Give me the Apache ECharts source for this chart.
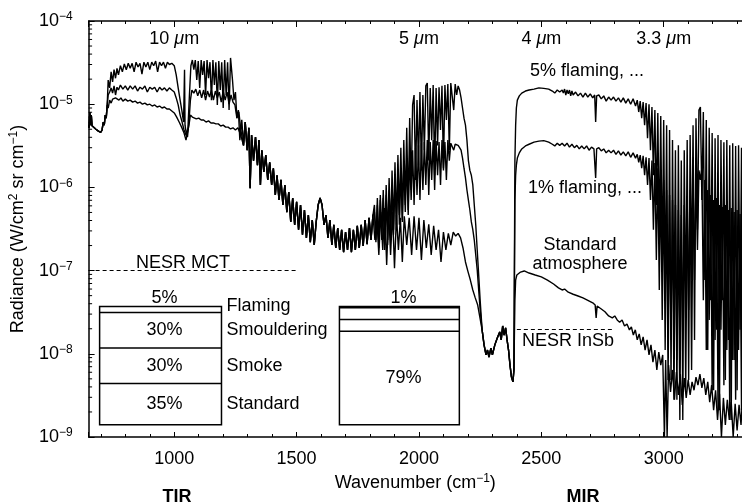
<!DOCTYPE html>
<html><head><meta charset="utf-8">
<style>html,body{margin:0;padding:0;background:#fff}#c{width:742px;height:504px}</style>
<script src="https://cdn.jsdelivr.net/npm/echarts@6/dist/echarts.min.js"></script>
</head><body><div id="c"></div>
<script>
// ---- spectral data: [wavenumber cm^-1, radiance W/cm2 sr cm-1] ----
const startAll = [[650,5.6e-6],[652,5.2e-6],[655,8.0e-6],[658,5.6e-6],[661,7.4e-6],[664,5.5e-6],[670,5.3e-6],[680,5.0e-6],[690,4.75e-6],[700,4.6e-6],[705,4.9e-6],[710,6.1e-6],[714,5.6e-6],[718,7.4e-6],[722,6.8e-6],[726,9.8e-6]];

const flame5Tir = [[730,1.95e-5],[736,1.57e-5],[742,2.45e-5],[748,1.85e-5],[754,2.6e-5],[760,2.05e-5],[766,2.7e-5],[772,2.25e-5],[780,2.9e-5],[788,2.45e-5],[796,3.05e-5],[804,2.6e-5],[812,3.1e-5],[820,2.7e-5],[828,3.1e-5],[836,2.45e-5],[844,3.2e-5],[852,2.8e-5],[860,3.1e-5],[868,2.3e-5],[876,3.2e-5],[884,2.8e-5],[892,3.2e-5],[900,2.6e-5],[908,3.2e-5],[916,2.9e-5],[924,3.3e-5],[932,2.45e-5],[940,3.2e-5],[948,2.9e-5],[956,3.2e-5],[964,2.7e-5],[972,3.2e-5],[980,3.0e-5],[990,3.1e-5],[1000,2.9e-5],[1008,2.25e-5],[1016,1.57e-5],[1024,1.12e-5],[1032,8.1e-6],[1038,6.1e-6],[1042,2.6e-5],[1044,5.6e-6],[1050,4.27e-6],[1056,5.2e-6],[1062,1.29e-5],[1068,2.9e-5],[1074,3.4e-5],[1080,2.6e-5],[1086,3.4e-5],[1092,1.95e-5],[1098,3.3e-5],[1104,1.57e-5],[1110,3.4e-5],[1116,2.25e-5],[1122,3.3e-5],[1128,1.29e-5],[1134,3.4e-5],[1140,2.05e-5],[1146,3.2e-5],[1152,1.12e-5],[1158,3.4e-5],[1164,1.7e-5],[1170,3.2e-5],[1176,9.8e-6],[1182,3.3e-5],[1188,1.48e-5],[1194,3.2e-5],[1200,9.0e-6],[1206,3.4e-5],[1212,1.29e-5],[1218,3.2e-5],[1224,8.5e-6],[1230,3.6e-5],[1238,1.95e-5],[1244,1.12e-5],[1250,1.4e-5],[1256,6.8e-6],[1262,8.5e-6],[1268,3.7e-6],[1276,6.5e-6]];

const flame1Tir = [[730,1.29e-5],[736,1.4e-5],[742,1.57e-5],[748,1.36e-5],[754,1.66e-5],[760,1.29e-5],[766,1.6e-5],[772,1.48e-5],[780,1.7e-5],[790,1.52e-5],[800,1.66e-5],[810,1.48e-5],[820,1.66e-5],[830,1.52e-5],[840,1.66e-5],[850,1.44e-5],[860,1.6e-5],[870,1.52e-5],[880,1.66e-5],[890,1.4e-5],[900,1.6e-5],[910,1.52e-5],[920,1.6e-5],[930,1.4e-5],[940,1.6e-5],[950,1.48e-5],[960,1.57e-5],[970,1.44e-5],[980,1.57e-5],[990,1.48e-5],[1000,1.4e-5],[1008,1.19e-5],[1016,9.8e-6],[1024,7.4e-6],[1032,6.1e-6],[1040,4.9e-6],[1048,4.27e-6],[1054,4.04e-6],[1060,6.1e-6],[1066,1.12e-5],[1072,1.48e-5],[1080,1.36e-5],[1088,1.52e-5],[1096,1.26e-5],[1104,1.48e-5],[1112,1.19e-5],[1120,1.48e-5],[1128,1.12e-5],[1136,1.44e-5],[1144,1.22e-5],[1152,1.48e-5],[1160,1.12e-5],[1168,1.44e-5],[1176,1.19e-5],[1184,1.4e-5],[1192,1.06e-5],[1200,1.44e-5],[1208,1.12e-5],[1216,1.4e-5],[1224,1.0e-5],[1232,1.29e-5],[1240,1.06e-5],[1248,9.8e-6],[1256,6.8e-6],[1264,8.1e-6],[1272,4.9e-6]];

const stdTir = [[730,9.0e-6],[736,1.12e-5],[742,1.03e-5],[748,1.15e-5],[754,1.09e-5],[760,1.19e-5],[766,1.22e-5],[774,1.12e-5],[782,1.19e-5],[790,1.09e-5],[800,1.15e-5],[810,1.09e-5],[820,1.12e-5],[830,1.06e-5],[840,1.09e-5],[850,1.03e-5],[860,1.06e-5],[870,1.0e-5],[880,1.03e-5],[890,9.8e-6],[900,1.0e-5],[910,9.5e-6],[920,9.8e-6],[930,9.25e-6],[940,9.5e-6],[950,9.0e-6],[960,9.25e-6],[970,8.75e-6],[980,8.75e-6],[990,8.3e-6],[1000,7.85e-6],[1010,7.0e-6],[1020,6.1e-6],[1030,5.3e-6],[1040,4.5e-6],[1048,3.7e-6],[1054,3.6e-6],[1060,5.6e-6],[1066,7.4e-6],[1074,7.0e-6],[1082,7.2e-6],[1090,6.65e-6],[1100,6.8e-6],[1110,6.45e-6],[1120,6.45e-6],[1130,6.1e-6],[1140,6.3e-6],[1150,5.95e-6],[1160,5.95e-6],[1170,5.8e-6],[1180,5.8e-6],[1190,5.47e-6],[1200,5.6e-6],[1210,5.3e-6],[1220,5.3e-6],[1230,5.04e-6],[1240,5.2e-6],[1250,4.9e-6],[1260,5.2e-6],[1270,4.4e-6]];

const commonMid = [[1283,3.2e-6],[1290,6.1e-6],[1298,2.8e-6],[1305,5.2e-6],[1310,9.8e-7],[1316,4.27e-6],[1324,2.1e-6],[1332,4.04e-6],[1340,1.85e-6],[1346,3.7e-6],[1352,1.07e-6],[1358,2.8e-6],[1366,1.53e-6],[1374,2.45e-6],[1382,1.23e-6],[1390,2.0e-6],[1398,1.07e-6],[1405,1.7e-6],[1413,8.1e-7],[1420,1.4e-6],[1428,7.05e-7],[1436,1.23e-6],[1444,6.15e-7],[1452,1.07e-6],[1460,5.05e-7],[1468,8.8e-7],[1476,3.85e-7],[1484,7.45e-7],[1492,3.55e-7],[1500,6.7e-7],[1508,3.1e-7],[1516,6.15e-7],[1524,2.7e-7],[1532,5.35e-7],[1540,2.47e-7],[1548,4.65e-7],[1556,2.2e-7],[1564,4.05e-7],[1572,2.03e-7],[1580,3.85e-7],[1588,6.15e-7],[1596,7.45e-7],[1604,6.15e-7],[1612,3.55e-7],[1620,4.65e-7],[1628,2.47e-7],[1636,4.05e-7],[1644,2.03e-7],[1652,3.55e-7],[1660,1.87e-7],[1668,3.25e-7],[1676,1.77e-7],[1684,3.1e-7],[1692,1.67e-7],[1700,2.9e-7],[1708,1.77e-7],[1716,3.25e-7],[1724,1.67e-7],[1732,3.1e-7],[1740,1.77e-7],[1748,3.45e-7],[1756,1.87e-7],[1764,3.55e-7],[1772,1.98e-7],[1780,4.05e-7],[1788,2.08e-7],[1796,4.3e-7],[1804,2.33e-7],[1812,4.65e-7]];

const flame5Mid = [[1818,6.15e-7],[1824,2.33e-7],[1830,7.45e-7],[1836,2.03e-7],[1842,8.1e-7],[1848,2.47e-7],[1854,9.3e-7],[1860,2.03e-7],[1866,1.07e-6],[1872,2.33e-7],[1878,1.3e-6],[1884,2.7e-7],[1890,1.6e-6],[1896,3.1e-7],[1902,2.0e-6],[1908,3.55e-7],[1914,2.45e-6],[1920,4.65e-7],[1926,3.0e-6],[1932,4.05e-7],[1938,3.7e-6],[1944,6.15e-7],[1950,5.2e-6],[1956,5.35e-7],[1962,6.8e-6],[1968,9.3e-7],[1974,9.8e-6],[1980,1.29e-5],[1986,1.23e-6],[1992,1.12e-5],[1998,1.85e-6],[2004,1.4e-5],[2010,1.6e-6],[2016,1.29e-5],[2022,2.8e-6],[2028,1.66e-5],[2034,1.8e-5],[2040,2.1e-6],[2046,1.57e-5],[2052,3.7e-6],[2058,1.7e-5],[2064,1.4e-6],[2070,1.57e-5],[2076,3.2e-6],[2082,1.6e-5],[2088,4.9e-6],[2094,1.66e-5],[2100,1.7e-6],[2106,1.7e-5],[2112,6.45e-6],[2118,1.75e-5],[2124,2.8e-6],[2130,1.8e-5],[2136,1.85e-5],[2142,8.5e-6],[2148,1.75e-5],[2154,1.29e-5],[2160,1.66e-5],[2166,1.48e-5],[2172,1.19e-5],[2178,9.0e-6],[2184,6.8e-6],[2190,5.6e-6],[2196,3.7e-6],[2202,2.1e-6],[2208,1.6e-6],[2214,1.4e-6],[2220,1.07e-6],[2226,6.15e-7],[2232,3.55e-7],[2238,1.77e-7],[2244,8.85e-8],[2250,4.4e-8]];

const flame1Mid = [[1818,5.05e-7],[1824,2.2e-7],[1830,6.15e-7],[1836,1.87e-7],[1842,7.05e-7],[1848,2.33e-7],[1854,7.45e-7],[1860,1.77e-7],[1866,8.1e-7],[1872,2.03e-7],[1878,9.3e-7],[1884,2.33e-7],[1890,1.07e-6],[1896,2.7e-7],[1902,1.23e-6],[1908,3.1e-7],[1914,1.4e-6],[1920,3.55e-7],[1926,1.6e-6],[1932,3.85e-7],[1938,1.85e-6],[1944,5.05e-7],[1950,2.1e-6],[1956,4.65e-7],[1962,2.45e-6],[1968,7.05e-7],[1974,2.8e-6],[1980,6.15e-7],[1986,3.0e-6],[1992,8.1e-7],[1998,3.2e-6],[2004,7.05e-7],[2010,3.4e-6],[2016,9.3e-7],[2022,3.5e-6],[2028,1.07e-6],[2034,3.7e-6],[2040,8.1e-7],[2046,3.5e-6],[2052,1.23e-6],[2058,3.7e-6],[2064,9.3e-7],[2070,3.6e-6],[2076,1.4e-6],[2082,3.5e-6],[2088,1.07e-6],[2094,3.7e-6],[2100,1.6e-6],[2106,3.5e-6],[2112,1.23e-6],[2118,3.7e-6],[2124,2.1e-6],[2130,3.4e-6],[2136,3.5e-6],[2142,2.8e-6],[2148,3.3e-6],[2154,3.15e-6],[2160,3.2e-6],[2166,3.0e-6],[2172,2.8e-6],[2178,2.25e-6],[2184,1.7e-6],[2190,1.3e-6],[2196,9.3e-7],[2202,7.05e-7],[2208,5.35e-7],[2214,3.85e-7],[2220,3.1e-7],[2226,2.33e-7],[2232,1.54e-7],[2238,1.02e-7],[2244,5.85e-8],[2250,3.36e-8]];

const stdMid = [[1820,2.33e-7],[1828,4.3e-7],[1836,1.54e-7],[1844,5.05e-7],[1852,1.77e-7],[1860,5.65e-7],[1868,1.17e-7],[1876,5.35e-7],[1884,1.54e-7],[1892,5.05e-7],[1900,1.07e-7],[1908,4.65e-7],[1916,1.77e-7],[1924,4.3e-7],[1932,1.27e-7],[1940,4.5e-7],[1950,2.03e-7],[1960,4.3e-7],[1970,1.54e-7],[1980,4.5e-7],[1990,1.77e-7],[2000,4.3e-7],[2010,1.34e-7],[2020,4.05e-7],[2030,1.87e-7],[2040,3.6e-7],[2050,1.54e-7],[2060,3.45e-7],[2070,1.77e-7],[2080,3.1e-7],[2090,1.27e-7],[2100,2.9e-7],[2110,1.77e-7],[2120,2.8e-7],[2130,2.03e-7],[2140,2.9e-7],[2150,2.6e-7],[2160,2.8e-7],[2170,2.47e-7],[2180,1.87e-7],[2190,1.27e-7],[2200,9.8e-8],[2210,7.7e-8],[2220,5.85e-8],[2230,4.7e-8],[2240,3.85e-8]];

const commonGap = [[2258,1.94e-8],[2266,1.28e-8],[2274,9.7e-9],[2280,1.11e-8],[2286,9.15e-9],[2294,1.17e-8],[2300,9.7e-9],[2310,1.28e-8],[2320,1.55e-8],[2330,1.83e-8],[2336,1.47e-8],[2342,2.16e-8],[2348,1.68e-8],[2354,2.05e-8],[2360,1.47e-8],[2366,1.11e-8],[2372,7.3e-9],[2378,5.25e-9],[2384,4.6e-9],[2388,6.4e-9]];

const flame5Mir = [[2392,2.1e-6],[2395,5.6e-6],[2398,9.0e-6],[2402,1.12e-5],[2410,1.26e-5],[2420,1.36e-5],[2435,1.44e-5],[2450,1.48e-5],[2470,1.52e-5],[2490,1.57e-5],[2510,1.55e-5],[2530,1.52e-5],[2545,1.44e-5],[2555,1.36e-5],[2565,1.48e-5],[2575,1.4e-5],[2580,1.33e-5],[2585,1.48e-5],[2590,1.36e-5],[2595,1.52e-5],[2600,1.29e-5],[2605,1.48e-5],[2610,1.33e-5],[2615,1.48e-5],[2620,1.26e-5],[2625,1.44e-5],[2630,1.29e-5],[2640,1.4e-5],[2650,1.26e-5],[2660,1.36e-5],[2670,1.22e-5],[2680,1.36e-5],[2690,1.22e-5],[2700,1.33e-5],[2710,1.19e-5],[2718,1.29e-5],[2722,6.1e-6],[2726,1.26e-5],[2735,1.29e-5],[2745,1.16e-5],[2755,1.26e-5],[2765,1.09e-5],[2775,1.22e-5],[2785,1.12e-5],[2795,1.22e-5],[2805,1.09e-5],[2815,1.19e-5],[2825,1.06e-5],[2835,1.19e-5],[2845,1.03e-5],[2855,1.16e-5],[2865,1.0e-5],[2875,1.16e-5],[2885,9.5e-6],[2892,1.12e-5],[2898,8.05e-6],[2904,1.09e-5],[2910,6.8e-6],[2916,1.06e-5],[2922,5.6e-6],[2928,1.03e-5],[2934,3.9e-6],[2940,1.0e-5],[2946,2.8e-6],[2952,9.25e-6],[2958,1.4e-6],[2964,8.5e-6],[2970,6.15e-7],[2976,7.85e-6],[2982,2.33e-7],[2988,7.2e-6],[2994,1.02e-7],[3000,6.45e-6],[3006,4.4e-8],[3012,5.6e-6],[3018,1.11e-8],[3024,4.9e-6],[3030,4.85e-9],[3036,3.7e-6],[3042,2.55e-8],[3048,2.8e-6],[3054,2.8e-9],[3060,3.2e-6],[3066,8.4e-9],[3072,2.1e-6],[3078,1.6e-9],[3084,2.8e-6],[3090,2.55e-8],[3096,3.7e-6],[3102,4.85e-9],[3108,4.27e-6],[3114,7.7e-8],[3120,5.6e-6],[3126,1.47e-8],[3132,6.8e-6],[3138,3.1e-7],[3144,8.5e-6],[3150,9.25e-6],[3156,7.05e-7],[3162,8.05e-6],[3168,7.7e-8],[3174,6.45e-6],[3180,1.11e-8],[3186,5.2e-6],[3192,4.4e-8],[3198,4.5e-6],[3204,3.65e-9],[3210,3.9e-6],[3216,1.94e-8],[3222,4.27e-6],[3228,2.1e-9],[3234,3.7e-6],[3240,4.4e-8],[3246,3.5e-6],[3252,4.85e-9],[3258,3.7e-6],[3264,1.47e-8],[3270,3.2e-6],[3276,1.6e-9],[3282,3.4e-6],[3288,8.4e-9],[3294,3.15e-6],[3300,3.65e-9],[3306,3.2e-6],[3312,1.94e-8],[3318,3.0e-6],[3320,4.4e-8]];

const flame1Mir = [[2392,7.05e-7],[2395,1.4e-6],[2398,1.85e-6],[2402,2.25e-6],[2410,2.6e-6],[2420,2.9e-6],[2435,3.15e-6],[2450,3.3e-6],[2470,3.5e-6],[2490,3.6e-6],[2510,3.65e-6],[2530,3.5e-6],[2545,3.3e-6],[2555,3.15e-6],[2565,3.4e-6],[2575,3.2e-6],[2585,3.4e-6],[2595,3.15e-6],[2605,3.4e-6],[2615,3.05e-6],[2625,3.3e-6],[2635,3.0e-6],[2645,3.2e-6],[2655,2.9e-6],[2665,3.15e-6],[2675,2.9e-6],[2685,3.15e-6],[2695,2.8e-6],[2705,3.05e-6],[2715,2.9e-6],[2722,1.3e-6],[2726,2.9e-6],[2735,3.0e-6],[2745,2.75e-6],[2755,2.9e-6],[2765,2.6e-6],[2775,2.8e-6],[2785,2.6e-6],[2795,2.8e-6],[2805,2.5e-6],[2815,2.75e-6],[2825,2.45e-6],[2835,2.67e-6],[2845,2.4e-6],[2855,2.67e-6],[2865,2.3e-6],[2875,2.6e-6],[2885,2.25e-6],[2892,2.5e-6],[2898,2.0e-6],[2904,2.45e-6],[2910,1.7e-6],[2916,2.4e-6],[2922,1.4e-6],[2928,2.3e-6],[2934,1.07e-6],[2940,2.25e-6],[2946,7.05e-7],[2952,2.1e-6],[2958,3.1e-7],[2964,1.96e-6],[2970,1.34e-7],[2976,1.7e-6],[2982,5.85e-8],[2988,1.4e-6],[2994,2.55e-8],[3000,1.23e-6],[3006,1.11e-8],[3012,9.3e-7],[3018,4.85e-9],[3024,8.1e-7],[3030,1.47e-8],[3036,7.05e-7],[3042,2.8e-9],[3048,6.15e-7],[3054,8.4e-9],[3060,5.35e-7],[3066,1.6e-9],[3072,4.65e-7],[3078,1.47e-8],[3084,6.15e-7],[3090,3.65e-9],[3096,7.05e-7],[3102,3.36e-8],[3108,9.3e-7],[3114,6.4e-9],[3120,1.23e-6],[3126,7.7e-8],[3132,1.4e-6],[3138,1.77e-7],[3144,1.6e-6],[3150,1.23e-6],[3156,1.7e-6],[3162,4.4e-8],[3168,1.23e-6],[3174,1.11e-8],[3180,9.3e-7],[3186,2.55e-8],[3192,8.1e-7],[3198,3.65e-9],[3204,7.05e-7],[3210,1.47e-8],[3216,7.45e-7],[3222,2.1e-9],[3228,6.15e-7],[3234,1.94e-8],[3240,5.8e-7],[3246,4.2e-9],[3252,6.15e-7],[3258,1.11e-8],[3264,5.35e-7],[3270,1.6e-9],[3276,5.65e-7],[3282,8.4e-9],[3288,5.05e-7],[3294,2.8e-9],[3300,5.35e-7],[3306,1.11e-8],[3312,4.8e-7],[3318,2.1e-9],[3320,4.65e-7]];

const stdMir = [[2392,4.4e-8],[2395,7.7e-8],[2400,8.85e-8],[2415,9.6e-8],[2430,9.9e-8],[2450,9.35e-8],[2475,8.85e-8],[2500,8.4e-8],[2525,7.7e-8],[2550,6.9e-8],[2570,6.2e-8],[2585,5.85e-8],[2595,6.0e-8],[2610,5.5e-8],[2630,5.2e-8],[2650,4.95e-8],[2670,4.7e-8],[2690,4.4e-8],[2710,4.1e-8],[2720,3.85e-8],[2724,2.7e-8],[2728,3.75e-8],[2745,3.45e-8],[2760,3.2e-8],[2775,2.85e-8],[2790,2.7e-8],[2800,2.85e-8],[2810,2.55e-8],[2820,2.4e-8],[2830,2.55e-8],[2840,2.16e-8],[2850,2.28e-8],[2860,1.94e-8],[2868,2.1e-8],[2876,1.68e-8],[2884,1.94e-8],[2892,1.47e-8],[2900,1.73e-8],[2908,1.28e-8],[2916,1.6e-8],[2924,1.11e-8],[2932,1.47e-8],[2940,9.7e-9],[2948,1.28e-8],[2956,7.95e-9],[2964,1.11e-8],[2972,6.4e-9],[2980,1.05e-8],[2988,7.3e-9],[2996,9.7e-9],[3003,1.0e-9],[3008,8.4e-9],[3014,1.0e-9],[3020,7.3e-9],[3028,3.47e-9],[3036,6.4e-9],[3044,2.8e-9],[3052,6.05e-9],[3060,3.2e-9],[3068,5.7e-9],[3076,2.43e-9],[3084,5.1e-9],[3092,2.95e-9],[3100,4.85e-9],[3108,3.2e-9],[3116,4.6e-9],[3124,3.65e-9],[3132,5.25e-9],[3140,4.2e-9],[3148,5.7e-9],[3156,3.9e-9],[3164,5.1e-9],[3172,3.2e-9],[3180,4.6e-9],[3188,2.63e-9],[3196,4.2e-9],[3204,2.1e-9],[3212,3.65e-9],[3220,1.6e-9],[3228,3.3e-9],[3236,1.0e-9],[3244,2.95e-9],[3252,1.4e-9],[3260,2.8e-9],[3268,1.6e-9],[3276,2.63e-9],[3284,1.0e-9],[3292,2.5e-9],[3300,1.2e-9],[3308,2.43e-9],[3316,1.4e-9],[3320,2.3e-9]];

// detector noise levels: [from wn, to wn, radiance]
const nesrMct = [650, 1500, 1e-7];
const nesrInSb = [2400, 2800, 2e-8];

// pixel-fraction composition boxes
const tirShares = [5, 30, 30, 35];
const mirShares = [1, 10, 10, 79];
const shareClasses = ['Flaming', 'Smouldering', 'Smoke', 'Standard'];

// axis ticks
const topTickWn = [1000, 2000, 2500, 3000];
const topTickLabels = ['10', '5', '4', '3.3'];
const yMinorTicks = [2e-9,3e-9,4e-9,5e-9,6e-9,7e-9,8e-9,9e-9,2e-8,3e-8,4e-8,5e-8,6e-8,7e-8,8e-8,9e-8,2e-7,3e-7,4e-7,5e-7,6e-7,7e-7,8e-7,9e-7,2e-6,3e-6,4e-6,5e-6,6e-6,7e-6,8e-6,9e-6,2e-5,3e-5,4e-5,5e-5,6e-5,7e-5,8e-5,9e-5];

const flame5 = startAll.concat(flame5Tir, commonMid, flame5Mid, commonGap, flame5Mir);
const flame1 = startAll.concat(flame1Tir, commonMid, flame1Mid, commonGap, flame1Mir);
const stdAtm = startAll.concat(stdTir, commonMid, stdMid, commonGap, stdMir);

const FONT = "'Liberation Sans', Arial, Helvetica, sans-serif";
const XMIN = 650, XMAX = 3320;
const boxTop = 3.7e-8, boxBottom = 1.4e-9;
const boxes = [
  {x0: 695, x1: 1193, shares: tirShares, showPct: [true, true, true, true], classes: true},
  {x0: 1675, x1: 2165, shares: mirShares, showPct: [true, false, false, true], classes: false}
];

const chart = echarts.init(document.getElementById('c'));
const lineBase = {type: 'line', showSymbol: false, symbol: 'none', silent: true, animation: false,
  lineStyle: {color: '#000', width: 1.4}, z: 3};
const txt = (text, x, y, extra) => Object.assign({type: 'text', x: x, y: y, silent: true,
  style: {text: text, fill: '#000', font: '18px ' + FONT, align: 'center', verticalAlign: 'middle'}}, extra || {});

chart.setOption({
  animation: false,
  textStyle: {fontFamily: FONT},
  grid: {left: 86, top: 21, right: 0, bottom: 67, containLabel: false},
  xAxis: [{
    type: 'value', min: XMIN, max: XMAX, position: 'bottom', splitNumber: 5,
    axisLine: {lineStyle: {color: '#000', width: 1.5}},
    axisTick: {inside: true, length: 5, lineStyle: {color: '#000'}},
    minorTick: {show: true, splitNumber: 5, length: 3, lineStyle: {color: '#000'}},
    splitLine: {show: false},
    axisLabel: {color: '#000', fontSize: 18, margin: 13, showMinLabel: false, showMaxLabel: false,
      formatter: v => String(v)},
    name: 'Wavenumber (cm{s|−1})', nameLocation: 'middle', nameGap: 33,
    nameTextStyle: {color: '#000', fontSize: 18, lineHeight: 20,
      rich: {s: {fontSize: 12, lineHeight: 10, verticalAlign: 'top', fontFamily: FONT}}}
  }, {
    type: 'value', min: XMIN, max: XMAX, position: 'top', splitNumber: 5,
    axisLine: {lineStyle: {color: '#000', width: 1.5}},
    axisTick: {inside: true, length: 6, lineStyle: {color: '#000'}},
    minorTick: {show: true, splitNumber: 5, length: 3, lineStyle: {color: '#000'}},
    splitLine: {show: false},
    axisLabel: {inside: true, margin: 9, color: '#000', fontSize: 18, showMinLabel: false, showMaxLabel: false,
      formatter: v => { const i = topTickWn.indexOf(v); return i < 0 ? '' : topTickLabels[i] + ' {i|μ}m'; },
      rich: {i: {fontStyle: 'italic', fontSize: 18, fontFamily: FONT}}}
  }],
  yAxis: {
    type: 'log', logBase: 10, min: 1e-9, max: 1e-4,
    axisLine: {lineStyle: {color: '#000', width: 1.5}},
    axisTick: {inside: true, length: 6, lineStyle: {color: '#000'}},
    splitLine: {show: false},
    axisLabel: {color: '#000', margin: 16,
      formatter: v => '{b|10}{s|−' + Math.round(-Math.log10(v)) + '}',
      rich: {b: {fontSize: 18, lineHeight: 20, fontFamily: FONT},
             s: {fontSize: 12, lineHeight: 10, verticalAlign: 'top', fontFamily: FONT}}},
    name: 'Radiance (W/cm{s|2} sr cm{s|−1})', nameLocation: 'middle', nameGap: 58,
    nameTextStyle: {color: '#000', fontSize: 18, lineHeight: 20,
      rich: {s: {fontSize: 12, lineHeight: 10, verticalAlign: 'top', fontFamily: FONT}}}
  },
  series: [
    Object.assign({name: '5% flaming', data: flame5}, lineBase),
    Object.assign({name: '1% flaming', data: flame1}, lineBase),
    Object.assign({name: 'Standard atmosphere', data: stdAtm,
      markLine: {silent: true, symbol: ['none', 'none'], animation: false, label: {show: false},
        lineStyle: {type: [4, 3], color: '#000', width: 1},
        data: [[{coord: [nesrMct[0], nesrMct[2]]}, {coord: [nesrMct[1], nesrMct[2]]}],
               [{coord: [nesrInSb[0], nesrInSb[2]]}, {coord: [nesrInSb[1], nesrInSb[2]]}]]}}, lineBase),
    {
      type: 'custom', silent: true, clip: false, animation: false, z: 4,
      data: boxes.map(b => [b.x0, boxTop]),
      renderItem: (params, api) => {
        const b = boxes[params.dataIndex];
        const tl = api.coord([b.x0, boxTop]);
        const br = api.coord([b.x1, boxBottom]);
        const w = br[0] - tl[0], h = br[1] - tl[1];
        const cx = tl[0] + w / 2 + 4;
        const children = [{type: 'rect', shape: {x: tl[0], y: tl[1], width: w, height: h},
          style: {fill: '#fff', stroke: '#000', lineWidth: 1.5}}];
        let acc = 0;
        b.shares.forEach((s, i) => {
          const y0 = tl[1] + h * acc / 100; acc += s; const y1 = tl[1] + h * acc / 100;
          if (i < b.shares.length - 1) children.push({type: 'line',
            shape: {x1: tl[0], y1: y1, x2: br[0], y2: y1}, style: {stroke: '#000', lineWidth: 1.5}});
          if (b.showPct[i]) children.push({type: 'text', style: {text: s + '%', x: cx,
            y: s <= 5 ? tl[1] - 8 : (y0 + y1) / 2, fill: '#000', font: '18px ' + FONT,
            align: 'center', verticalAlign: 'middle'}});
          if (b.classes) children.push({type: 'text', style: {text: shareClasses[i], x: br[0] + 5,
            y: i === 0 ? tl[1] : (y0 + y1) / 2, fill: '#000', font: '18px ' + FONT,
            align: 'left', verticalAlign: 'middle'}});
        });
        return {type: 'group', children: children};
      }
    },
    {
      type: 'custom', silent: true, clip: false, animation: false, z: 5,
      data: yMinorTicks.map(v => [XMIN, v]),
      renderItem: (params, api) => {
        const p = api.coord([XMIN, api.value(1)]);
        return {type: 'line', shape: {x1: p[0], y1: p[1], x2: p[0] + 3.5, y2: p[1]},
          style: {stroke: '#000', lineWidth: 1}};
      }
    }
  ],
  graphic: [
    txt('5% flaming, ...', 587, 71),
    txt('1% flaming, ...', 585, 188),
    txt('Standard', 580, 245),
    txt('atmosphere', 580, 264),
    txt('NESR MCT', 183, 263),
    txt('NESR InSb', 568, 341),
    txt('TIR', 177, 497, {style: {text: 'TIR', fill: '#000', font: 'bold 18px ' + FONT, align: 'center', verticalAlign: 'middle'}}),
    txt('MIR', 583, 497, {style: {text: 'MIR', fill: '#000', font: 'bold 18px ' + FONT, align: 'center', verticalAlign: 'middle'}})
  ]
});
</script></body></html>
